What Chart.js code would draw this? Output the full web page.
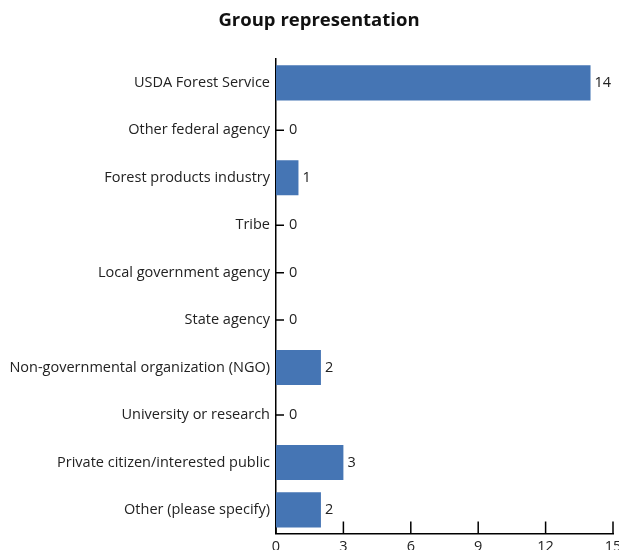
<!DOCTYPE html>
<html>
<head>
<meta charset="utf-8">
<script src="https://cdn.jsdelivr.net/npm/chart.js@4"></script>
<style>
  html, body { margin: 0; padding: 0; background: #fff; overflow: hidden; }
  #wrap { width: 619px; height: 550px; overflow: hidden; }
</style>
</head>
<body>
<div id="wrap"><canvas id="bar-chart" width="638" height="563"></canvas></div>
<script>
let groups = [
  "USDA Forest Service",
  "Other federal agency",
  "Forest products industry",
  "Tribe",
  "Local government agency",
  "State agency",
  "Non-governmental organization (NGO)",
  "University or research",
  "Private citizen/interested public",
  "Other (please specify)",
];
let counts = [14, 0, 1, 0, 0, 0, 2, 0, 3, 2];
let xTicks = [0, 3, 6, 9, 12, 15];

let fontFamily = "'Open Sans', sans-serif";
let barColor = "#4575b4";

// tick marks drawn inward from both axes, under the bars
let innerTicks = {
  id: "innerTicks",
  beforeDatasetsDraw(chart) {
    let ctx = chart.ctx;
    let x = chart.scales.x;
    let y = chart.scales.y;
    let area = chart.chartArea;
    ctx.save();
    ctx.strokeStyle = "#000";
    ctx.lineWidth = 1.5;
    ctx.beginPath();
    xTicks.forEach((t) => {
      let px = x.getPixelForValue(t);
      ctx.moveTo(px, area.bottom);
      ctx.lineTo(px, area.bottom - 12);
    });
    groups.forEach((g, i) => {
      let py = y.getPixelForValue(i);
      ctx.moveTo(area.left, py);
      ctx.lineTo(area.left + 8, py);
    });
    ctx.stroke();
    ctx.restore();
  },
};

// value labels at the end of each bar
let valueLabels = {
  id: "valueLabels",
  afterDatasetsDraw(chart) {
    let ctx = chart.ctx;
    let meta = chart.getDatasetMeta(0);
    ctx.save();
    ctx.fillStyle = "#222";
    ctx.font = "14.5px " + fontFamily;
    ctx.textAlign = "left";
    ctx.textBaseline = "middle";
    meta.data.forEach((bar, i) => {
      let offset = counts[i] === 0 ? 13 : 4;
      ctx.fillText(String(counts[i]), bar.x + offset, bar.y);
    });
    ctx.restore();
  },
};

new Chart(document.getElementById("bar-chart"), {
  type: "bar",
  data: {
    labels: groups,
    datasets: [
      {
        data: counts,
        backgroundColor: barColor,
        borderWidth: 0,
        categoryPercentage: 1,
        barPercentage: 0.74,
      },
    ],
  },
  options: {
    indexAxis: "y",
    responsive: false,
    animation: false,
    layout: { padding: { left: 0, right: 0, top: 0, bottom: 2 } },
    plugins: {
      legend: { display: false },
      tooltip: { enabled: false },
      title: {
        display: true,
        text: "Group representation",
        color: "#111",
        font: { family: fontFamily, size: 18.5, weight: "bold" },
        padding: { top: 10, bottom: 27 },
      },
    },
    scales: {
      x: {
        min: 0,
        max: 15,
        afterBuildTicks(scale) {
          scale.ticks = xTicks.map((v) => ({ value: v }));
        },
        afterFit(scale) {
          scale.paddingRight = 25;
        },
        grid: { display: false, drawTicks: false },
        border: { display: true, color: "#000", width: 1.5 },
        ticks: {
          padding: 5,
          color: "#222",
          font: { family: fontFamily, size: 14.5 },
          maxRotation: 0,
        },
      },
      y: {
        grid: { display: false, drawTicks: false },
        border: { display: true, color: "#000", width: 1.5 },
        afterFit(scale) {
          scale.width = 276;
        },
        ticks: {
          padding: 6,
          color: "#222",
          autoSkip: false,
          font: { family: fontFamily, size: 14.5 },
        },
      },
    },
  },
  plugins: [innerTicks, valueLabels],
});
</script>
</body>
</html>
